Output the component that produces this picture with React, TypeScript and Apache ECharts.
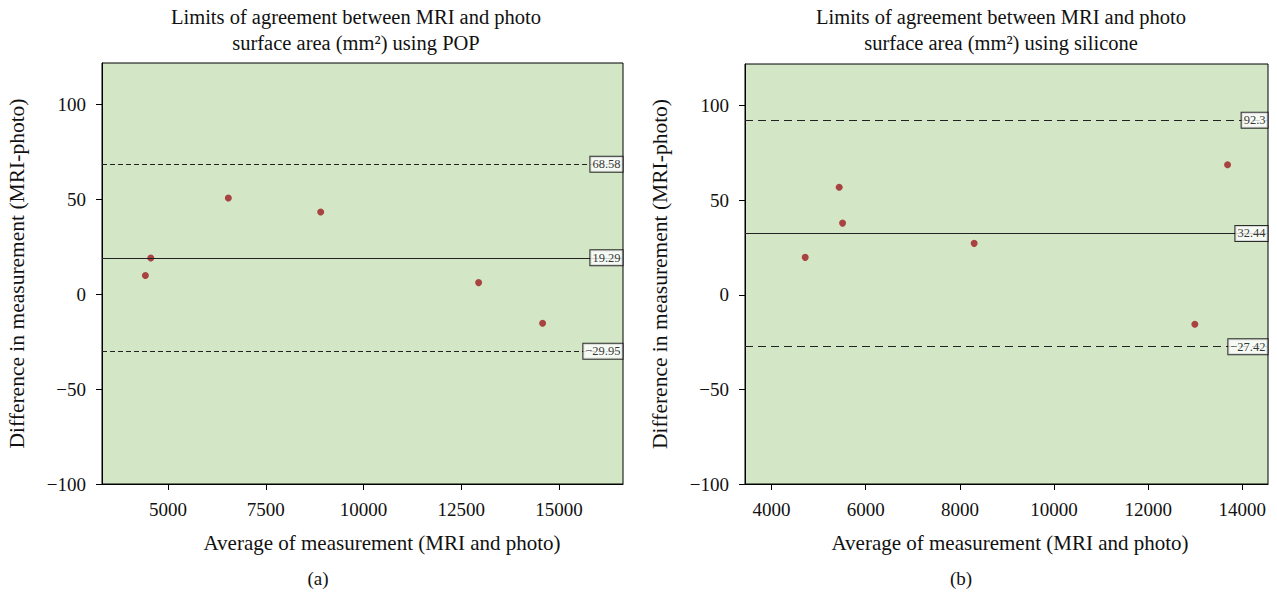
import React, { useEffect, useRef } from "react";
import * as echarts from "echarts";

const popX = [4420, 4558, 6542, 8905, 12946, 14583];
const popY = [9.9, 19.2, 50.8, 43.4, 6.2, -15.2];
const popLimits = [68.58, 19.29, -29.95];
const silX = [4714, 5436, 5508, 8303, 12991, 13686];
const silY = [19.8, 56.9, 37.9, 27.2, -15.6, 68.7];
const silLimits = [92.3, 32.44, -27.42];
const yTicks = [-100, -50, 0, 50, 100];
const popXTicks = [5000, 7500, 10000, 12500, 15000];
const silXTicks = [4000, 6000, 8000, 10000, 12000, 14000];
const titleLine1 = "Limits of agreement between MRI and photo";
const popTitle2 = "surface area (mm²) using POP";
const silTitle2 = "surface area (mm²) using silicone";
const xName = "Average of measurement (MRI and photo)";
const yName = "Difference in measurement (MRI-photo)";

const FONT = "'Liberation Serif', 'DejaVu Serif', serif";
const BG = "#d3e7c7";
const PT = "#9e1a20";

const fmtNum = (v: number) => (v < 0 ? "\u2212" + Math.abs(v) : String(v));

export default function App() {
  const ref = useRef<HTMLDivElement>(null);
  useEffect(() => {
    document.body.style.margin = "0";
    const chart = echarts.init(ref.current!, null, { renderer: "svg" });
    const popRange = [3310, 16640];
    const silRange = [3435, 14545];
    const yRange = [-100, 122];

    const xAxis = (idx: number, range: number[], ticks: number[]) => ({
      type: "value",
      gridIndex: idx,
      min: range[0],
      max: range[1],
      splitLine: { show: false },
      axisLine: { show: true, onZero: false, lineStyle: { color: "#000", width: 1 } },
      axisTick: { show: true, length: 6, lineStyle: { color: "#000" }, customValues: ticks },
      axisLabel: {
        customValues: ticks,
        margin: 16,
        fontFamily: FONT,
        fontSize: 19,
        color: "#111",
        formatter: (v: number) => fmtNum(v),
      },
    });
    const yAxis = (idx: number) => ({
      type: "value",
      gridIndex: idx,
      min: yRange[0],
      max: yRange[1],
      name: yName,
      nameLocation: "middle",
      nameGap: 74,
      nameTextStyle: { fontFamily: FONT, fontSize: 21.5, color: "#111" },
      splitLine: { show: false },
      axisLine: { show: true, onZero: false, lineStyle: { color: "#000", width: 1 } },
      axisTick: { show: true, length: 6, lineStyle: { color: "#000" }, customValues: yTicks },
      axisLabel: {
        customValues: yTicks,
        margin: 16,
        fontFamily: FONT,
        fontSize: 19,
        color: "#111",
        formatter: (v: number) => fmtNum(v),
      },
    });

    const linesFor = (limits: number[], dash: number[]) =>
      limits.map((v, i) => ({
        yAxis: v,
        lineStyle: { color: "#222", width: 1.2, type: i === 1 ? "solid" : dash },
      }));

    const pointSeries = (idx: number, xs: number[], ys: number[], limits: number[], dash: number[]) => ({
      type: "scatter",
      xAxisIndex: idx,
      yAxisIndex: idx,
      symbol: "circle",
      symbolSize: 7,
      itemStyle: { color: PT },
      data: xs.map((x, i) => [x, ys[i]]),
      markLine: {
        silent: true,
        symbol: ["none", "none"],
        label: { show: false },
        data: linesFor(limits, dash),
      },
      z: 3,
    });

    const labelSeries = (idx: number, xmax: number, limits: number[]) => ({
      type: "scatter",
      xAxisIndex: idx,
      yAxisIndex: idx,
      symbolSize: 1,
      itemStyle: { color: "rgba(0,0,0,0)" },
      data: limits.map((v) => [xmax, v]),
      clip: false,
      z: 5,
      label: {
        show: true,
        position: "left",
        distance: 0,
        formatter: (p: any) => fmtNum(p.value[1]),
        fontFamily: FONT,
        fontSize: 12.5,
        color: "#000",
        backgroundColor: "#fff",
        borderColor: "#000",
        borderWidth: 1,
        padding: [1, 2, 1, 2],
      },
    });

    const titleStyle = { fontFamily: FONT, fontSize: 20.5, fontWeight: "normal", color: "#111", lineHeight: 26 };
    const nameStyle = { fontFamily: FONT, fontSize: 21, fontWeight: "normal", color: "#111" };

    chart.setOption({
      animation: false,
      title: [
        { text: titleLine1 + "\n" + popTitle2, left: 351, top: -1, textAlign: "center", textStyle: titleStyle },
        { text: titleLine1 + "\n" + silTitle2, left: 996, top: -1, textAlign: "center", textStyle: titleStyle },
        { text: xName, left: 377, top: 527, textAlign: "center", textStyle: nameStyle },
        { text: xName, left: 1005, top: 527, textAlign: "center", textStyle: nameStyle },
        { text: "(a)", left: 313, top: 564, textAlign: "center", textStyle: { ...nameStyle, fontSize: 19 } },
        { text: "(b)", left: 956, top: 564, textAlign: "center", textStyle: { ...nameStyle, fontSize: 19 } },
      ],
      grid: [
        { left: 102, top: 63, width: 521, height: 421, show: true, backgroundColor: BG, borderColor: "#000", borderWidth: 1 },
        { left: 745, top: 64, width: 523, height: 420, show: true, backgroundColor: BG, borderColor: "#000", borderWidth: 1 },
      ],
      xAxis: [xAxis(0, popRange, popXTicks), xAxis(1, silRange, silXTicks)],
      yAxis: [yAxis(0), yAxis(1)],
      series: [
        pointSeries(0, popX, popY, popLimits, [5, 3]),
        pointSeries(1, silX, silY, silLimits, [8, 5]),
        labelSeries(0, popRange[1], popLimits),
        labelSeries(1, silRange[1], silLimits),
      ],
    });
    return () => chart.dispose();
  }, []);
  return <div ref={ref} style={{ width: 1277, height: 594 }} />;
}
